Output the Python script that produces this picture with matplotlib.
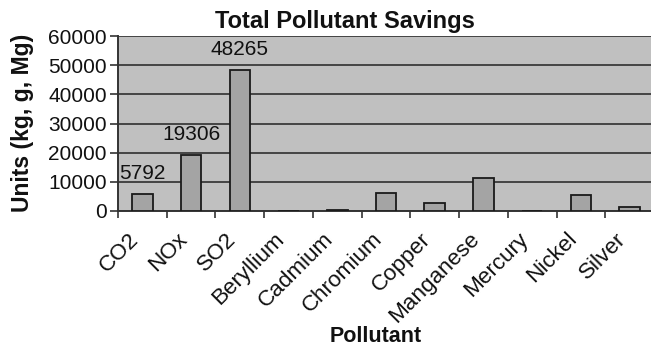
import matplotlib
matplotlib.use("Agg")
import matplotlib.pyplot as plt
from matplotlib.transforms import ScaledTranslation
import numpy as np

categories = ["CO2", "NOx", "SO2", "Beryllium", "Cadmium", "Chromium",
              "Copper", "Manganese", "Mercury", "Nickel", "Silver"]
values = [5792, 19306, 48265, 0, 450, 6100, 2900, 11300, 0, 5650, 1500]
labelled = {0: "5792", 1: "19306", 2: "48265"}
yticks = [0, 10000, 20000, 30000, 40000, 50000, 60000]

plt.rcParams['font.family'] = ['Liberation Sans', 'DejaVu Sans']

W, H = 651, 347
fig = plt.figure(figsize=(W / 100, H / 100), dpi=100)
ax = fig.add_axes([118 / W, 1 - 211 / H, (654 - 118) / W, (211 - 36) / H])
ax.set_facecolor('#c0c0c0')

x = np.arange(len(categories))
ax.bar(x, values, width=0.42, color='#a4a4a4', edgecolor='#1a1a1a',
       linewidth=1.3, zorder=3)

for i, txt in labelled.items():
    ax.annotate(txt, (x[i], values[i]), xytext=(0, 8), textcoords='offset points',
                ha='center', va='bottom', fontsize=15, color='#111111', zorder=4)

ax.set_xlim(-0.5, len(categories) - 0.5)
ax.set_ylim(0, 60000)
ax.set_yticks(yticks)
ax.set_yticklabels([str(v) for v in yticks])
ax.yaxis.grid(True, color='#3a3a3a', linewidth=1.3, zorder=1)
ax.set_axisbelow(True)

ax.set_xticks(np.arange(-0.5, len(categories) - 0.5, 1.0))
ax.set_xticklabels([])
ax.set_xticks(x, minor=True)
ax.set_xticklabels(categories, minor=True, rotation=45, ha='right',
                   va='center', rotation_mode='anchor', fontsize=16.2)
ax.tick_params(axis='x', which='major', direction='out', length=5,
               width=1.2, color='#333333')
ax.tick_params(axis='x', which='minor', length=0, pad=13, colors='#111111')
ax.tick_params(axis='y', direction='out', length=6, width=1.2,
               color='#333333', labelsize=15, pad=2, labelcolor='#111111')

shift = ScaledTranslation(-7 / 100, -7 / 100, fig.dpi_scale_trans)
for lab in ax.get_xticklabels(minor=True):
    lab.set_transform(lab.get_transform() + shift)

for s in ['top', 'right']:
    ax.spines[s].set_visible(False)
for s in ['left', 'bottom']:
    ax.spines[s].set_color('#333333')
    ax.spines[s].set_linewidth(1.4)

fig.text(345 / W, 1 - 28 / H, "Total Pollutant Savings", ha='center',
         va='baseline', fontsize=17, fontweight='bold', color='#111111')
fig.text(376 / W, 1 - 342 / H, "Pollutant", ha='center', va='baseline',
         fontsize=15.5, fontweight='bold', color='#111111')
fig.text(22.5 / W, 1 - 123 / H, "Units (kg, g, Mg)", ha='center', va='center',
         rotation=90, fontsize=16.5, fontweight='bold', color='#111111')

fig.savefig("out.png", dpi=100, facecolor='white')
